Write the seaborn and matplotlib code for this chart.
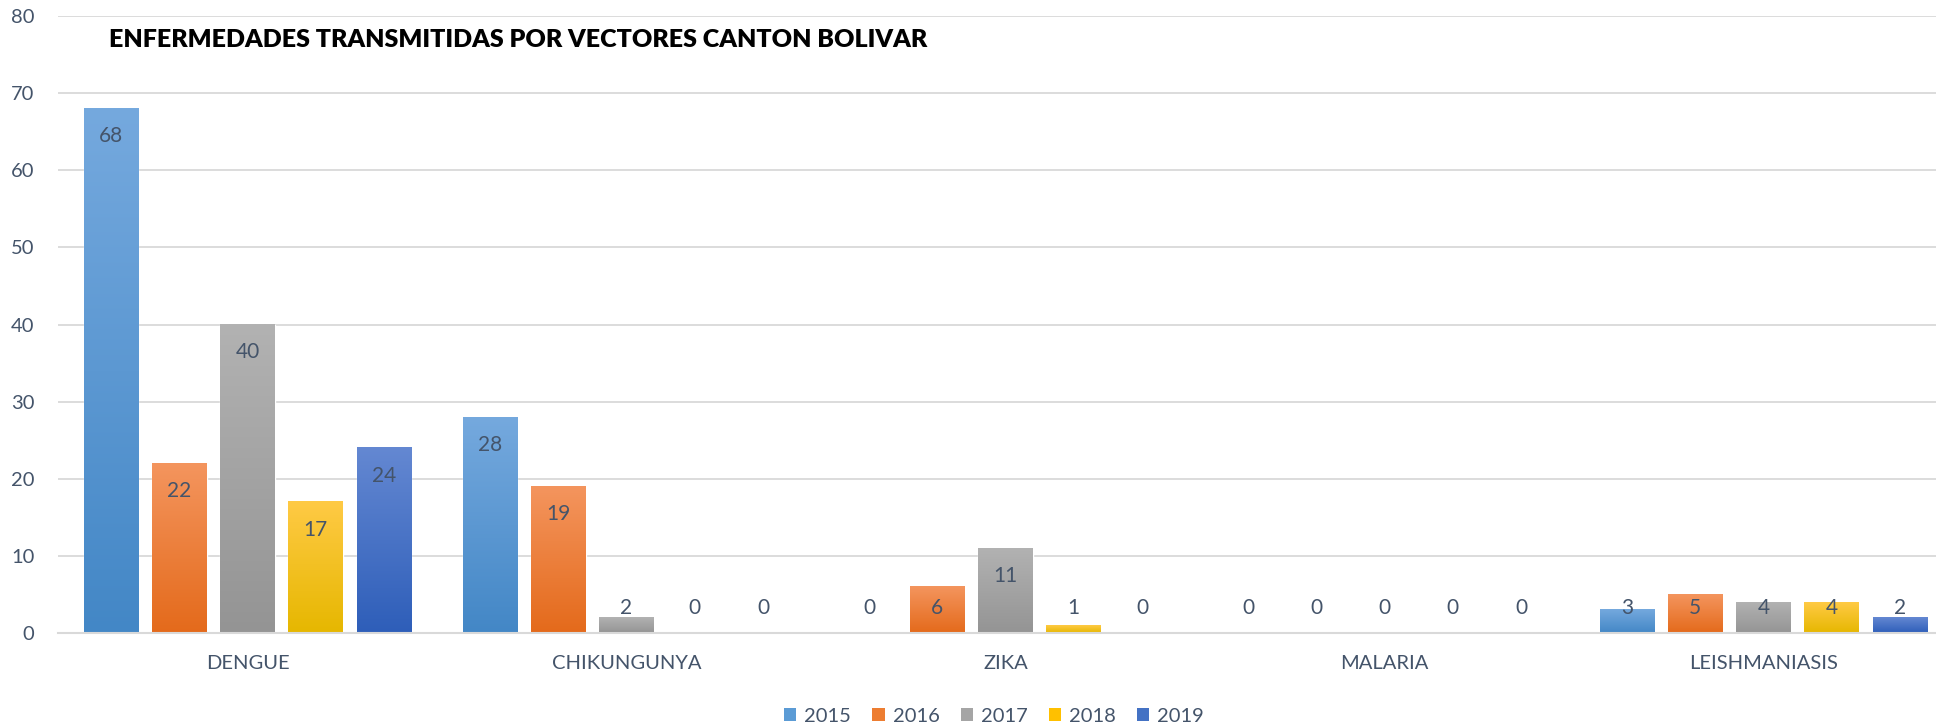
import numpy as np
import pandas as pd
import matplotlib
matplotlib.use("Agg")
import matplotlib.pyplot as plt
import seaborn as sns
from matplotlib.colors import LinearSegmentedColormap
from matplotlib.patches import Patch

categories = ["DENGUE", "CHIKUNGUNYA", "ZIKA", "MALARIA", "LEISHMANIASIS"]
years = ["2015", "2016", "2017", "2018", "2019"]
v2015 = [68, 28, 0, 0, 3]
v2016 = [22, 19, 6, 0, 5]
v2017 = [40, 2, 11, 0, 4]
v2018 = [17, 0, 1, 0, 4]
v2019 = [24, 0, 0, 0, 2]
series = [v2015, v2016, v2017, v2018, v2019]
title = "ENFERMEDADES TRANSMITIDAS POR VECTORES CANTON BOLIVAR"

# gradient colours (top, bottom) and flat colours for the legend
grad_top = ["#75A9DE", "#F4955E", "#B2B2B2", "#FFCA45", "#6488D2"]
grad_bot = ["#4387C6", "#E46A1B", "#949494", "#E6B700", "#2E5EB9"]
flat = ["#5B9BD5", "#ED7D31", "#A5A5A5", "#FFC000", "#4472C4"]

text_col = "#44546A"
grid_col = "#D9D9D9"
fs = 14.5

df = pd.DataFrame({
    "category": np.repeat([categories], len(years), axis=0).ravel(),
    "year": np.repeat(years, len(categories)),
    "value": np.concatenate(series),
})

sns.set_theme(style="white")
plt.rcParams["font.family"] = ["Lato", "DejaVu Sans"]

fig = plt.figure(figsize=(19.36, 7.28), dpi=100)
ax = fig.add_axes([58 / 1936, 95 / 728, 1895 / 1936, 617 / 728])

sns.barplot(data=df, x="category", y="value", hue="year", order=categories,
            hue_order=years, palette=flat, width=0.9, gap=0.2,
            legend=False, ax=ax, saturation=1)

ax.set_xlim(-0.5, 4.5)
ax.set_ylim(0, 80)

# gradient fill of bars + value labels
for ci, cont in enumerate(ax.containers):
    cmap = LinearSegmentedColormap.from_list(f"g{ci}", [grad_bot[ci], grad_top[ci]])
    for bar in cont:
        x0 = bar.get_x()
        w = bar.get_width()
        h = bar.get_height()
        if h > 0:
            grad = np.linspace(0, 1, 256).reshape(-1, 1)
            ax.imshow(grad, extent=(x0, x0 + w, 0, h), origin="lower",
                      cmap=cmap, aspect="auto", zorder=bar.get_zorder() + 0.1)
            bar.set_facecolor("none")
        ax.text(x0 + w / 2, max(h - 3.6, 3.3), f"{int(h)}", ha="center",
                va="center", fontsize=fs + 0.5, color=text_col, zorder=5)

ax.set_xlim(-0.5, 4.5)
ax.set_ylim(0, 80)
ax.set_aspect("auto")

# axes styling
ax.set_yticks(np.arange(0, 81, 10))
ax.yaxis.grid(True, color=grid_col, linewidth=1.3)
ax.set_axisbelow(True)
for s in ["top", "right", "left"]:
    ax.spines[s].set_visible(False)
ax.spines["bottom"].set_color(grid_col)
ax.spines["bottom"].set_linewidth(1.5)
ax.tick_params(axis="y", length=0, pad=17, labelsize=fs, labelcolor=text_col)
ax.tick_params(axis="x", which="major", length=0, pad=16, labelsize=fs,
               labelcolor=text_col)
ax.set_xticks(np.arange(-0.5, 5.0, 1.0), minor=True)
ax.tick_params(axis="x", which="minor", length=7, width=1.5, color=grid_col)
ax.set_xlabel("")
ax.set_ylabel("")

ax.text(0.027, 0.961, title, transform=ax.transAxes, ha="left", va="center",
        fontsize=18, fontweight="heavy", color="black")

handles = [Patch(facecolor=c, edgecolor="none") for c in flat]
fig.legend(handles, years, loc="center", bbox_to_anchor=(994 / 1936, 1 - 716 / 728),
           ncol=5, frameon=False, fontsize=fs, labelcolor=text_col,
           handlelength=0.6, handleheight=0.6, handletextpad=0.4,
           columnspacing=1.05)

fig.savefig("out.png", dpi=100)
